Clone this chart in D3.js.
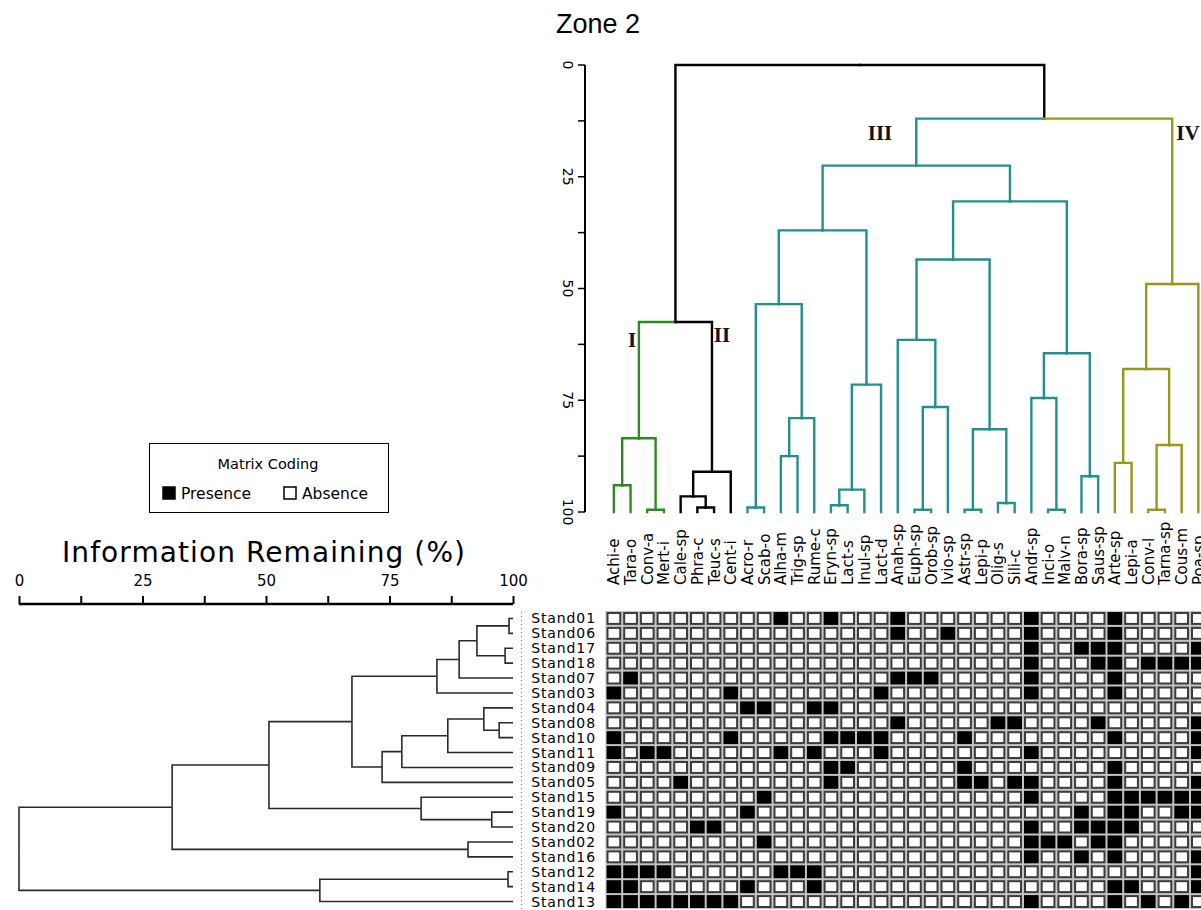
<!DOCTYPE html>
<html><head><meta http-equiv="Content-Type" content="text/html; charset=UTF-8">
<script src="https://d3js.org/d3.v7.min.js"></script>
<style>
  body { margin: 0; background: #fff; }
  svg text { font-family: "DejaVu Sans", Verdana, sans-serif; }
</style>
</head>
<body>
<div id="body"></div>
<script>

var w = 1201, h = 910;

// columns of the matrix = leaves of the species dendrogram
var species = ["Achi-e","Tara-o","Conv-a","Mert-i","Cale-sp","Phra-c","Teuc-s","Cent-i",
  "Acro-r","Scab-o","Alha-m","Trig-sp","Rume-c","Eryn-sp","Lact-s","Inul-sp","Lact-d",
  "Anah-sp","Euph-sp","Orob-sp","Ivio-sp","Astr-sp","Lepi-p","Olig-s","Sili-c","Andr-sp",
  "Inci-o","Malv-n","Bora-sp","Saus-sp","Arte-sp","Lepi-a","Conv-l","Tarna-sp","Cous-m","Poa-sp"];

// rows of the matrix = leaves of the stand dendrogram
var stands = ["Stand01","Stand06","Stand17","Stand18","Stand07","Stand03","Stand04","Stand08",
  "Stand10","Stand11","Stand09","Stand05","Stand15","Stand19","Stand20","Stand02","Stand16",
  "Stand12","Stand14","Stand13"];

// column indexes where the species is present, one list per stand
var presence = [
  [10,13,17,25,30],
  [17,20,25,30],
  [25,28,29,30,35],
  [25,29,30,32,33,34,35],
  [1,17,18,19,25,30],
  [0,7,16,25,30],
  [8,9,12,13],
  [17,23,24,29,35],
  [0,7,13,14,15,16,21,30,35],
  [0,2,3,10,12,16,25,35],
  [13,14,21,30],
  [4,13,21,22,24,25,30,35],
  [9,25,30,31,32,33,34,35],
  [0,8,28,30,31,34,35],
  [5,6,25,28,29,30,31],
  [9,25,26,27,29,30],
  [25,28,30,35],
  [0,1,2,3,10,11,12,35],
  [0,1,8,12,30,31,35],
  [0,1,2,3,4,5,6,7,25,30,32,34]
];

// species groups of the top dendrogram
var groupI = ["Achi-e","Tara-o","Conv-a","Mert-i"];
var groupII = ["Cale-sp","Phra-c","Teuc-s","Cent-i"];
var groupIII = species.slice(8, 30);
var groupIV = species.slice(30);
var groupNames = ["I","II","III","IV"];
var groupColors = ["#2e8a1e","#000000","#238f8f","#97971b"];

// dendrograms as [height, left, right]; height in % information remaining
var speciesTree = [0,
  [57.5,
    [83.5, [94, "Achi-e", "Tara-o"], [99.5, "Conv-a", "Mert-i"]],
    [91, [96.5, "Cale-sp", [99, "Phra-c", "Teuc-s"]], "Cent-i"]],
  [12,
    [22.5,
      [37,
        [53.5, [99, "Acro-r", "Scab-o"], [79, [87.5, "Alha-m", "Trig-sp"], "Rume-c"]],
        [71.5, [95, [98.5, "Eryn-sp", "Lact-s"], "Inul-sp"], "Lact-d"]],
      [30.5,
        [43.5,
          [61.5, "Anah-sp", [76.5, [99.5, "Euph-sp", "Orob-sp"], "Ivio-sp"]],
          [81.5, [99.5, "Astr-sp", "Lepi-p"], [98, "Olig-s", "Sili-c"]]],
        [64.5,
          [74.5, "Andr-sp", [99.5, "Inci-o", "Malv-n"]],
          [92, "Bora-sp", "Saus-sp"]]]],
    [49,
      [68, [89, "Arte-sp", "Lepi-a"], [85, [99.5, "Conv-l", "Tarna-sp"], "Cous-m"]],
      "Poa-sp"]]];

var standTree = [0,
  [31,
    [50.6,
      [67.4,
        [84.6, [89.1, [92.7, [99.2, "Stand01", "Stand06"], [98.4, "Stand17", "Stand18"]], "Stand07"], "Stand03"],
        [73.5, [77.5, [86.8, [94.1, "Stand04", [97.2, "Stand08", "Stand10"]], "Stand11"], "Stand09"], "Stand05"]],
      [81.4, "Stand15", [95.7, "Stand19", "Stand20"]]],
    [90.9, "Stand02", "Stand16"]],
  [60.9, [99, "Stand12", "Stand14"], "Stand13"]];

var axisTicks = [0, 12.5, 25, 37.5, 50, 62.5, 75, 87.5, 100];
var axisTickLabels = [0, 25, 50, 75, 100];

var svg = d3.select("#body").append("svg")
    .attr("width", w)
    .attr("height", h);
svg.append("rect").attr("width", w).attr("height", h).attr("fill", "#fff");

// ---- scales
var col = d3.scaleBand().domain(species).range([605.5, 605.5 + 16.7 * species.length]);
var row = d3.scaleBand().domain(stands).range([611, 909]);
var yTop = d3.scaleLinear().domain([0, 100]).range([65, 512]);
var xLeft = d3.scaleLinear().domain([0, 100]).range([19, 513]);

function groupOf(name) {
  if (groupI.indexOf(name) >= 0) return 0;
  if (groupII.indexOf(name) >= 0) return 1;
  if (groupIII.indexOf(name) >= 0) return 2;
  return 3;
}

// node objects, position along the leaves = mean of the two children
function build(t, leafPos) {
  if (typeof t === "string") {
    return {name: t, h: 100, pos: leafPos(t), leaves: [t]};
  }
  var a = build(t[1], leafPos), b = build(t[2], leafPos);
  return {h: t[0], pos: (a.pos + b.pos) / 2, children: [a, b], leaves: a.leaves.concat(b.leaves)};
}

function nodeColor(n) {
  var g = n.leaves.map(groupOf);
  var same = g.every(function(d) { return d === g[0]; });
  return same ? groupColors[g[0]] : "#000";
}

function links(n, out) {
  if (!n.children) return out;
  n.children.forEach(function(c) {
    out.push({parent: n, child: c});
    links(c, out);
  });
  return out;
}

// ---- top dendrogram
var sRoot = build(speciesTree, function(s) { return col(s) + col.bandwidth() / 2; });

svg.append("g").selectAll("path")
  .data(links(sRoot, []))
  .enter().append("path")
  .attr("d", function(d) {
    return "M" + d.parent.pos + "," + yTop(d.parent.h) + "H" + d.child.pos + "V" + yTop(d.child.h);
  })
  .attr("fill", "none")
  .attr("stroke", function(d) { return nodeColor(d.child); })
  .attr("stroke-width", 2.4)
  .attr("stroke-linecap", "square");

// top axis
var gAx = svg.append("g");
gAx.append("line").attr("x1", 585).attr("x2", 585).attr("y1", yTop(0)).attr("y2", yTop(100))
  .attr("stroke", "#000").attr("stroke-width", 2);
gAx.selectAll("line.t").data(axisTicks).enter().append("line")
  .attr("x1", 578).attr("x2", 585)
  .attr("y1", function(d) { return yTop(d); }).attr("y2", function(d) { return yTop(d); })
  .attr("stroke", "#000").attr("stroke-width", 1.5);
gAx.selectAll("text").data(axisTickLabels).enter().append("text")
  .attr("transform", function(d) { return "translate(563," + yTop(d) + ") rotate(90)"; })
  .attr("text-anchor", "middle")
  .attr("font-size", 14)
  .text(function(d) { return d; });

// cluster labels
var groupLabelPos = [[632, 347], [722, 342], [880, 140], [1188, 140]];
svg.selectAll("text.grp").data(groupNames).enter().append("text")
  .attr("x", function(d, i) { return groupLabelPos[i][0]; })
  .attr("y", function(d, i) { return groupLabelPos[i][1]; })
  .attr("text-anchor", "middle")
  .style("font-family", "'Liberation Serif', 'DejaVu Serif', serif")
  .style("font-weight", "bold")
  .attr("font-size", 21)
  .attr("fill", "#111")
  .text(function(d) { return d; });

svg.append("text").attr("x", 556).attr("y", 33).attr("font-size", 27)
  .style("font-family", "'Liberation Sans', Arial, sans-serif")
  .text("Zone 2");

// species labels
svg.selectAll("text.sp").data(species).enter().append("text")
  .attr("transform", function(d) { return "translate(" + (col(d) + col.bandwidth() / 2 + 5.5) + ",585) rotate(-90)"; })
  .attr("font-size", 15)
  .text(function(d) { return d; });

// ---- matrix
var cells = [];
stands.forEach(function(s, i) {
  species.forEach(function(sp, j) {
    cells.push({stand: s, sp: sp, on: presence[i].indexOf(j) >= 0});
  });
});
svg.append("rect")
  .attr("x", col.range()[0]).attr("y", row.range()[0])
  .attr("width", col.range()[1] - col.range()[0]).attr("height", row.range()[1] - row.range()[0])
  .attr("fill", "#c4c4c4");
svg.selectAll("rect.cell").data(cells).enter().append("rect")
  .attr("x", function(d) { return col(d.sp) + 2; })
  .attr("y", function(d) { return row(d.stand) + 2; })
  .attr("width", col.bandwidth() - 4)
  .attr("height", row.bandwidth() - 4)
  .attr("fill", function(d) { return d.on ? "#000" : "#fff"; })
  .attr("stroke", function(d) { return d.on ? "#000" : "#3c3c3c"; })
  .attr("stroke-width", 2);

svg.selectAll("text.st").data(stands).enter().append("text")
  .attr("x", 596)
  .attr("y", function(d) { return row(d) + row.bandwidth() / 2 + 5; })
  .attr("text-anchor", "end")
  .attr("font-size", 14)
  .attr("letter-spacing", 0.9)
  .text(function(d) { return d; });

svg.append("line").attr("x1", 521.5).attr("x2", 521.5).attr("y1", 612).attr("y2", 909)
  .attr("stroke", "#777").attr("stroke-dasharray", "1,3");

// ---- left dendrogram
var rRoot = build(standTree, function(s) { return row(s) + row.bandwidth() / 2; });
svg.append("g").selectAll("path").data(links(rRoot, [])).enter().append("path")
  .attr("d", function(d) {
    return "M" + xLeft(d.parent.h) + "," + d.parent.pos + "V" + d.child.pos + "H" + xLeft(d.child.h);
  })
  .attr("fill", "none")
  .attr("stroke", "#2a2a2a")
  .attr("stroke-width", 1.6);

var xAxis = d3.axisTop(xLeft).tickValues(axisTicks).tickSize(8)
  .tickFormat(function(d) { return axisTickLabels.indexOf(d) >= 0 ? d : ""; });
var gx = svg.append("g").attr("transform", "translate(0,604)").call(xAxis);
gx.select(".domain").attr("stroke-width", 2.5).attr("d", "M19,0H513");
gx.selectAll(".tick line").attr("stroke-width", 2);
gx.selectAll(".tick text").attr("font-size", 15).attr("dy", "-0.45em")
  .style("font-family", "'DejaVu Sans', Verdana, sans-serif");

svg.append("text").attr("x", 62).attr("y", 562)
  .attr("font-size", 28).attr("textLength", 403).attr("lengthAdjust", "spacing")
  .text("Information Remaining (%)");

// ---- legend
var lg = svg.append("g");
lg.append("rect").attr("x", 149.5).attr("y", 443.5).attr("width", 239).attr("height", 69)
  .attr("fill", "#fff").attr("stroke", "#000");
lg.append("text").attr("x", 268).attr("y", 469).attr("text-anchor", "middle").attr("font-size", 14.5)
  .text("Matrix Coding");
var legendItems = ["Presence", "Absence"];
var legendX = [163, 284];
lg.selectAll("rect.k").data(legendItems).enter().append("rect")
  .attr("x", function(d, i) { return legendX[i]; }).attr("y", 487)
  .attr("width", 12).attr("height", 12)
  .attr("fill", function(d, i) { return i === 0 ? "#000" : "#fff"; })
  .attr("stroke", "#000").attr("stroke-width", 1.5);
lg.selectAll("text.k").data(legendItems).enter().append("text")
  .attr("x", function(d, i) { return legendX[i] + 18; }).attr("y", 499)
  .attr("font-size", 15.5).text(function(d) { return d; });

</script>
</body></html>
